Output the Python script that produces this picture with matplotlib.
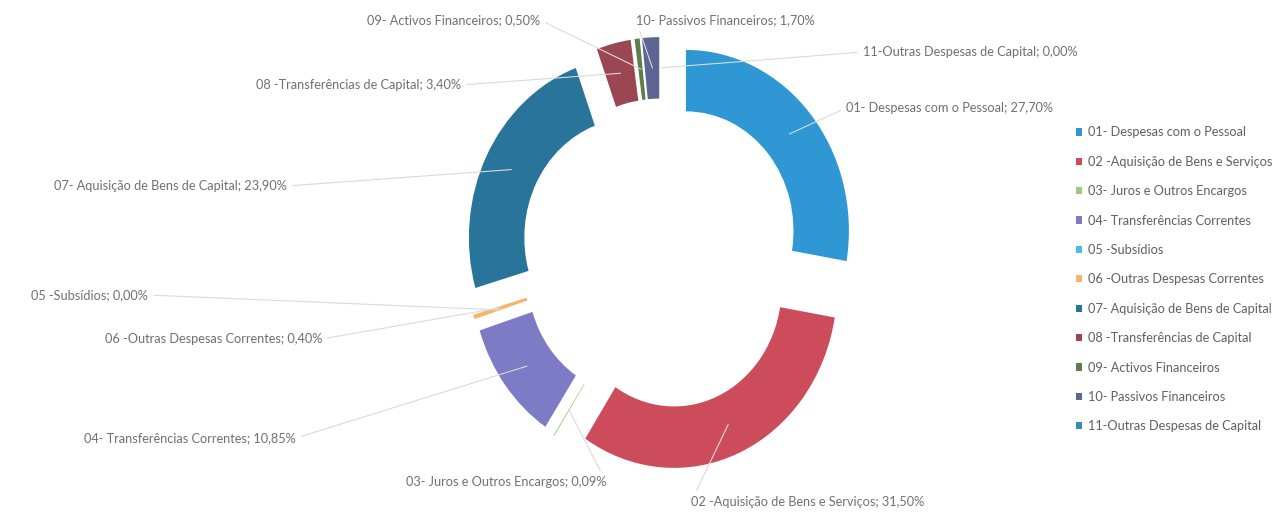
import matplotlib.pyplot as plt
import numpy as np

names = ['01- Despesas com o Pessoal', '02 -Aquisição de Bens e Serviços',
         '03- Juros e Outros Encargos', '04- Transferências Correntes',
         '05 -Subsídios', '06 -Outras Despesas Correntes',
         '07- Aquisição de Bens de Capital', '08 -Transferências de Capital',
         '09- Activos Financeiros', '10- Passivos Financeiros',
         '11-Outras Despesas de Capital']
values = [27.70, 31.50, 0.09, 10.85, 0.00, 0.40, 23.90, 3.40, 0.50, 1.70, 0.00]
colors = ['#2f97d4', '#cc4c5c', '#9dc97e', '#7e7bc6', '#42c0ea', '#f6b36a',
          '#28749a', '#9a4752', '#5d7d4b', '#5f6593', '#3a89b3']

# label anchor positions in pixels (x, y, alignment)
label_pos = [(846, 108, 'left'), (691, 502, 'left'), (606, 482, 'right'),
             (296, 438, 'right'), (148, 295, 'right'), (322, 339, 'right'),
             (287, 186, 'right'), (461, 85, 'right'), (540, 20, 'right'),
             (636, 20, 'left'), (863, 52, 'left')]

W, H = 1287, 512
s = 1.109          # vertical stretch of the scanned chart
cx, cy = 661, (H - 254) / s
R = 163
ring = 0.34
expl = 0.2 * R

plt.rcParams['font.family'] = ['Lato', 'DejaVu Sans']
fig = plt.figure(figsize=(W / 100, H / 100), dpi=100)
ax = fig.add_axes([0, 0, 1, 1])

wedges, _ = ax.pie(values, colors=colors, startangle=90, counterclock=False,
                   radius=R, center=(cx, cy), explode=[expl] * len(values),
                   wedgeprops=dict(width=ring * R, linewidth=0))
ax.set_aspect('auto')
ax.set_xlim(0, W)
ax.set_ylim(0, H / s)
ax.axis('off')

cum = 0
for name, v, (px, py, ha) in zip(names, values, label_pos):
    theta = np.radians(90 - 360 * (cum + v / 2) / 100)
    cum += v
    rr = R + expl - ring * R / 2
    pt = (cx + rr * np.cos(theta), cy + rr * np.sin(theta))
    txt = f"{name}; {v:.2f}%".replace('.', ',')
    ax.annotate(txt, xy=pt, xytext=(px / W, 1 - py / H),
                textcoords='figure fraction', ha=ha, va='center',
                fontsize=9.2, color='#707070',
                arrowprops=dict(arrowstyle='-', color='#dadada', lw=0.8,
                                shrinkA=2, shrinkB=0,
                                relpos=(0, 0.5) if ha == 'left' else (1, 0.5)))

fig.legend(wedges, names, loc='upper left', bbox_to_anchor=(1064 / W, 1 - 115 / H),
           frameon=False, fontsize=9.2, handlelength=0.5, handleheight=0.5,
           handletextpad=0.5, labelspacing=1.36, labelcolor='#606060')

fig.savefig('out.png', dpi=100, facecolor='white')
